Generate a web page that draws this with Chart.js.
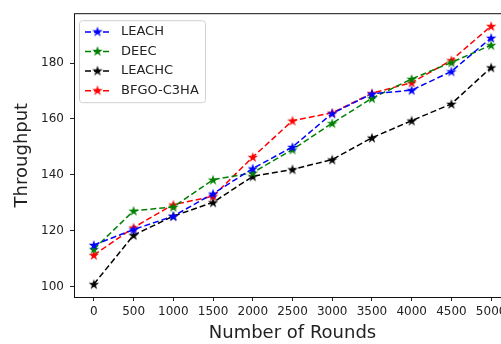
<!DOCTYPE html>
<html>
<head>
<meta charset="utf-8">
<script src="https://cdn.jsdelivr.net/npm/chart.js@4.4.0/dist/chart.umd.min.js"></script>
<style>
  html, body { margin: 0; padding: 0; background: #fff; overflow: hidden; }
  #wrap { width: 520px; height: 344px; }
</style>
</head>
<body>
<div id="wrap"><canvas id="c" width="520" height="344" style="width:520px;height:344px"></canvas></div>
<script>
// datos
const rounds = [0, 500, 1000, 1500, 2000, 2500, 3000, 3500, 4000, 4500, 5000];
const leach  = [115, 120.5, 125.3, 133.3, 142.3, 150, 162, 169, 170.3, 177, 189];
const deec   = [113.5, 127.2, 128.6, 138.3, 140.8, 149.1, 158.5, 167.4, 174.3, 180.2, 186.4];
const leachc = [101, 118.5, 125.3, 130.2, 139.5, 142, 145.5, 153.3, 159.4, 165.4, 178.4];
const bfgo   = [111.4, 121.2, 129.4, 132.4, 146.4, 159.4, 162.2, 169.2, 173, 181, 193.2];
const seriesNames = ['LEACH', 'DEEC', 'LEACHC', 'BFGO-C3HA'];
const yTicks = [100, 120, 140, 160, 180];

const FONT = "'DejaVu Sans', sans-serif";
const colors = ['#0000ff', '#008000', '#000000', '#ff0000'];

function starPath(ctx, cx, cy, R) {
    const r = R * 0.382;
    ctx.beginPath();
    for (let i = 0; i < 10; i++) {
        const rad = i % 2 === 0 ? R : r;
        const ang = -Math.PI / 2 + i * Math.PI / 5;
        const x = cx + rad * Math.cos(ang);
        const y = cy + rad * Math.sin(ang);
        if (i === 0) ctx.moveTo(x, y); else ctx.lineTo(x, y);
    }
    ctx.closePath();
}

function makeStar(color) {
    const R = 5.5;
    const cv = document.createElement('canvas');
    cv.width = 14; cv.height = 14;
    const g = cv.getContext('2d');
    starPath(g, 7, 7.5, R);
    g.fillStyle = color;
    g.fill();
    return cv;
}

const stars = colors.map(makeStar);
const allData = [leach, deec, leachc, bfgo];

// leyenda dentro del area, estilo matplotlib
const legendBox = {
    id: 'legendBox',
    afterDraw(chart) {
        const ctx = chart.ctx;
        const a = chart.chartArea;
        ctx.save();
        // marco del area
        ctx.strokeStyle = '#111';
        ctx.lineWidth = 1;
        ctx.strokeRect(a.left + 0.5, a.top + 0.5, a.right - a.left, a.bottom - a.top);

        const bx = a.left + 5.5, by = a.top + 7.5, bw = 126, bh = 82;
        ctx.beginPath();
        ctx.roundRect(bx, by, bw, bh, 3);
        ctx.fillStyle = 'rgba(255,255,255,0.8)';
        ctx.fill();
        ctx.strokeStyle = '#d0d0d0';
        ctx.stroke();

        ctx.font = '13px ' + FONT;
        ctx.textBaseline = 'middle';
        seriesNames.forEach((name, i) => {
            const y = a.top + 18.7 + i * 19.6;
            ctx.beginPath();
            ctx.setLineDash([6, 3]);
            ctx.lineWidth = 1.5;
            ctx.strokeStyle = colors[i];
            ctx.moveTo(a.left + 11, y);
            ctx.lineTo(a.left + 36, y);
            ctx.stroke();
            ctx.setLineDash([]);
            ctx.drawImage(stars[i], a.left + 23.5 - 7, y - 7.5);
            ctx.fillStyle = '#222';
            ctx.fillText(name, a.left + 47, y);
        });
        ctx.restore();
    }
};

new Chart(document.getElementById('c').getContext('2d'), {
    type: 'line',
    plugins: [legendBox],
    data: {
        datasets: seriesNames.map((name, i) => ({
            label: name,
            data: rounds.map((r, j) => ({ x: r, y: allData[i][j] })),
            borderColor: colors[i],
            backgroundColor: colors[i],
            borderWidth: 1.5,
            borderDash: [6, 3],
            pointStyle: stars[i],
            pointRadius: 5,
            tension: 0,
            fill: false
        }))
    },
    options: {
        responsive: false,
        animation: false,
        layout: { padding: { top: 12, right: 9, left: 0, bottom: 0 } },
        plugins: { legend: { display: false }, tooltip: { enabled: false } },
        scales: {
            x: {
                type: 'linear',
                min: -250,
                max: 5250,
                afterBuildTicks: (s) => { s.ticks = rounds.map(v => ({ value: v })); },
                afterFit: (s) => { s.height = 47; },
                grid: { drawOnChartArea: false, tickLength: 4, color: '#222' },
                border: { display: false },
                ticks: {
                    color: '#222', font: { family: FONT, size: 12 }, padding: 4, maxRotation: 0, autoSkip: false,
                    callback: (v) => String(v)
                },
                title: { display: true, text: 'Number of Rounds', color: '#222', font: { family: FONT, size: 18 }, padding: { top: 0, bottom: 0 } }
            },
            y: {
                min: 96.4,
                max: 197.8,
                afterBuildTicks: (s) => { s.ticks = yTicks.map(v => ({ value: v })); },
                afterFit: (s) => { s.width = 74; },
                grid: { drawOnChartArea: false, tickLength: 4, color: '#222' },
                border: { display: false },
                ticks: { color: '#222', font: { family: FONT, size: 12 }, padding: 6, callback: (v) => String(v) },
                title: { display: true, text: 'Throughput', color: '#222', font: { family: FONT, size: 18 }, padding: { top: 12, bottom: 0 } }
            }
        }
    }
});
</script>
</body>
</html>
